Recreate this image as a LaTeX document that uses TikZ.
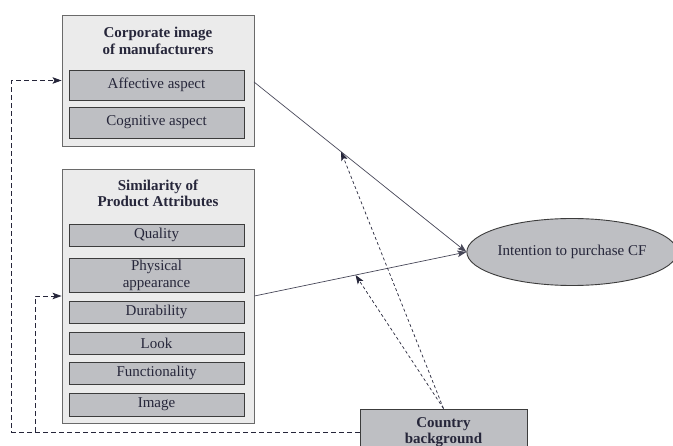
\documentclass[tikz,border=0pt]{standalone}
\usepackage{fontspec}
\setmainfont{Liberation Serif}
\usetikzlibrary{arrows.meta,calc,shapes.geometric}
\definecolor{ink}{HTML}{26263A}
\definecolor{panelfill}{HTML}{EBEBEB}
\definecolor{panelline}{HTML}{6A6A6A}
\definecolor{itemfill}{HTML}{BEBFC3}
\definecolor{itemline}{HTML}{3C3C3C}
\newcommand{\bodyfont}{\fontsize{15}{16.5}\selectfont}
\tikzset{
  panel/.style={draw=panelline, fill=panelfill, line width=0.9pt, inner sep=0pt},
  item/.style={draw=itemline, fill=itemfill, line width=0.9pt, inner sep=0pt,
    minimum width=175pt, text=ink, align=center},
  heading/.style={text=ink, font=\bodyfont\bfseries, align=center, inner sep=0pt},
  tip/.style={-{Stealth[length=9pt,width=6.5pt,inset=2pt]}},
  effect/.style={tip, draw=ink!85, line width=0.7pt},
  moderator/.style={tip, draw=ink, line width=0.7pt, dash pattern=on 3pt off 2.5pt},
  feedback/.style={tip, draw=ink, line width=0.8pt, dash pattern=on 5pt off 3pt}
}
\begin{document}
\begin{tikzpicture}[x=1pt,y=-1pt,font=\bodyfont]
\useasboundingbox (0,0) rectangle (673,446);
\clip (0,0) rectangle (673,446);

% Corporate image panel
\node[panel, minimum width=192pt, minimum height=131pt] (corp) at (158,80.5) {};
\node[heading] (corptitle) at (158,41) {Corporate image\\of manufacturers};
\node[item, minimum height=30pt] (affective) at (156.5,85) {Affective aspect};
\node[item, minimum height=31pt] (cognitive) at (156.5,122.5) {Cognitive aspect};

% Product attributes panel
\node[panel, minimum width=192pt, minimum height=254pt] (sim) at (158,296) {};
\node[heading] (simtitle) at (158,193.5) {Similarity of\\Product Attributes};
\node[item, minimum height=22pt] (quality) at (156.5,235) {Quality};
\node[item, minimum height=34pt] (physical) at (156.5,275.5) {Physical\\appearance};
\node[item, minimum height=22pt] (durability) at (156.5,312) {Durability};
\node[item, minimum height=22pt] (look) at (156.5,343) {Look};
\node[item, minimum height=22pt] (functionality) at (156.5,373) {Functionality};
\node[item, minimum height=23pt] (image) at (156.5,404.5) {Image};

% Outcome and moderator
\node[ellipse, draw=itemline, fill=itemfill, line width=0.9pt, minimum width=202pt,
  minimum height=67pt, inner sep=0pt, text=ink] (intent) at (572,252) {Intention to purchase CF};
\node[item, minimum width=167pt, minimum height=46pt, font=\bodyfont\bfseries] (country) at (443.5,432) {Country\\background};

% Direct effects
\coordinate (corpout) at (254,82);
\draw[effect] (corpout) -- (intent.west);
\draw[effect] (sim.east) -- (intent.west);

% Moderating effects
\draw[moderator] (country.north) -- ($(corpout)!0.41!(intent.west)$);
\draw[moderator] (country.north) -- ($(sim.east)!0.477!(intent.west)$);

% Feedback paths
\draw[feedback] (country.west) -- ++(-348,0) |- (corp.west);
\coordinate (branch) at (35,432);
\draw[feedback] (branch) |- (sim.west);
\end{tikzpicture}
\end{document}
